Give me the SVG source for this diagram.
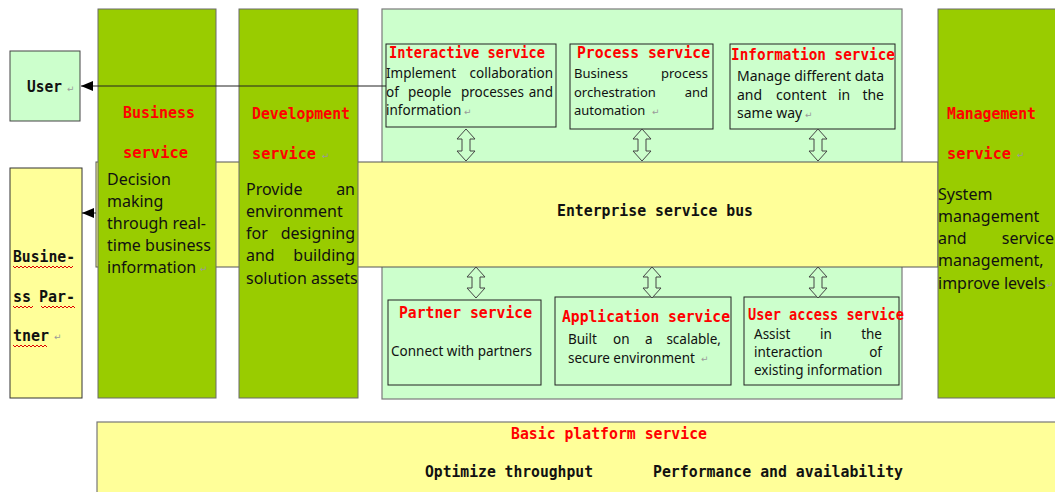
<svg xmlns="http://www.w3.org/2000/svg" width="1055" height="492" viewBox="0 0 1055 492">
<style>
.col{fill:#99cc00;stroke:#6b6b6b;stroke-width:1}
.lg{fill:#ccffcc;stroke:#7a7a7a;stroke-width:1.2}
.sub{fill:#ccffcc;stroke:#222;stroke-width:1}
.ye{fill:#ffff99;stroke:#555;stroke-width:1}
.h{font-family:"DejaVu Sans Mono",monospace;font-weight:bold;font-size:15px;fill:#ff0000}
.m{font-family:"DejaVu Sans Mono",monospace;font-weight:bold;font-size:15px;fill:#111}
.b{font-family:"Noto Sans",sans-serif;font-size:16px;fill:#111}
.s{font-size:13.5px}
.s13{font-size:13px}
.s14{font-size:14px}
.rm{font-family:"DejaVu Sans",sans-serif;font-size:9px;fill:#9a9a9a}
.ha{fill:#ccffcc;stroke:#444;stroke-width:1}
.wv{fill:none;stroke:#e00000;stroke-width:1}
.ln{fill:none;stroke:#222;stroke-width:1}
</style>
<defs>
<marker id="ah" viewBox="0 0 12 10" refX="12" refY="5" markerWidth="12" markerHeight="10" markerUnits="userSpaceOnUse" orient="auto">
<path d="M0,0 L12,5 L0,10 Z" fill="#000"/>
</marker>
</defs>
<rect width="1055" height="492" fill="#ffffff"/>

<g id="soa-container">
<rect class="lg" x="382" y="9" width="520" height="390"/>
</g>

<g id="enterprise-service-bus">
<rect class="ye" x="96" y="162" width="842" height="105"/>
<text class="m" x="557" y="216" textLength="196" lengthAdjust="spacingAndGlyphs">Enterprise service bus</text>
</g>

<g id="user">
<rect fill="#ccffcc" stroke="#444" x="10" y="51" width="70" height="70"/>
<text class="m" x="27" y="92" textLength="35" lengthAdjust="spacingAndGlyphs">User</text>
<text class="rm" x="67" y="92">↵</text>
</g>

<g id="business-partner">
<rect fill="#ffff99" stroke="#333" x="10" y="168" width="72" height="230"/>
<text class="m" x="13" y="262" textLength="62" lengthAdjust="spacingAndGlyphs">Busine-</text>
<text class="m" x="13" y="302">ss</text>
<text class="m" x="75" y="302" text-anchor="end">Par-</text>
<text class="m" x="13" y="341">tner</text>
<text class="rm" x="54" y="340">↵</text>
<path class="wv" d="M13,266 l2,2 l2,-2 l2,2 l2,-2 l2,2 l2,-2 l2,2 l2,-2 l2,2 l2,-2 l2,2 l2,-2 l2,2 l2,-2 l2,2 l2,-2 l2,2 l2,-2 l2,2 l2,-2 l2,2 l2,-2 l2,2 l2,-2 l2,2 l2,-2 l2,2 l2,-2 l2,2 l2,-2"/>
<path class="wv" d="M13,306 l2,2 l2,-2 l2,2 l2,-2 l2,2 l2,-2 l2,2 l2,-2 l2,2 l2,-2"/>
<path class="wv" d="M41,306 l2,2 l2,-2 l2,2 l2,-2 l2,2 l2,-2 l2,2 l2,-2 l2,2 l2,-2 l2,2 l2,-2 l2,2 l2,-2 l2,2 l2,-2 l2,2"/>
<path class="wv" d="M13,345 l2,2 l2,-2 l2,2 l2,-2 l2,2 l2,-2 l2,2 l2,-2 l2,2 l2,-2 l2,2 l2,-2 l2,2 l2,-2 l2,2 l2,-2 l2,2"/>
</g>

<g id="business-service">
<rect class="col" x="98" y="9" width="118" height="389"/>
<text class="h" x="123" y="118" textLength="72" lengthAdjust="spacingAndGlyphs">Business</text>
<text class="h" x="123" y="158" textLength="65" lengthAdjust="spacingAndGlyphs">service</text>
<text class="b" x="107" y="185">Decision</text>
<text class="b" x="107" y="207">making</text>
<text class="b" x="107" y="229">through real-</text>
<text class="b" x="107" y="251">time business</text>
<text class="b" x="107" y="273">information</text>
<text class="rm" x="200" y="272">↵</text>
</g>

<g id="development-service">
<rect class="col" x="239" y="9" width="119" height="389"/>
<text class="h" x="252" y="119" textLength="98" lengthAdjust="spacingAndGlyphs">Development</text>
<text class="h" x="252" y="159" textLength="64" lengthAdjust="spacingAndGlyphs">service</text>
<text class="rm" x="322" y="159">↵</text>
<text class="b" x="246" y="195">Provide</text>
<text class="b" x="355" y="195" text-anchor="end">an</text>
<text class="b" x="246" y="217">environment</text>
<text class="b" x="246" y="239">for</text>
<text class="b" x="355" y="239" text-anchor="end">designing</text>
<text class="b" x="246" y="261">and</text>
<text class="b" x="355" y="261" text-anchor="end">building</text>
<text class="b" x="246" y="284">solution assets</text>
</g>

<g id="management-service">
<rect class="col" x="938" y="9" width="130" height="389"/>
<text class="h" x="947" y="119" textLength="89" lengthAdjust="spacingAndGlyphs">Management</text>
<text class="h" x="947" y="159" textLength="64" lengthAdjust="spacingAndGlyphs">service</text>
<text class="rm" x="1017" y="158">↵</text>
<text class="b" x="938" y="200">System</text>
<text class="b" x="938" y="222">management</text>
<text class="b" x="938" y="244">and</text>
<text class="b" x="1054" y="244" text-anchor="end">service</text>
<text class="b" x="938" y="266">management,</text>
<text class="b" x="938" y="289">improve levels</text>
<text class="rm" x="1046" y="288">↵</text>
</g>

<g id="interactive-service">
<rect class="sub" x="386" y="44" width="170" height="83"/>
<text class="h" x="389" y="58" textLength="156" lengthAdjust="spacingAndGlyphs">Interactive service</text>
<text class="b s" x="386" y="78">Implement</text>
<text class="b s" x="553" y="78" text-anchor="end">collaboration</text>
<text class="b s" x="386" y="97">of</text>
<text class="b s" x="408" y="97">people</text>
<text class="b s" x="461" y="97">processes</text>
<text class="b s" x="553" y="97" text-anchor="end">and</text>
<text class="b s" x="386" y="115">information</text>
<text class="rm" x="464" y="115">↵</text>
</g>

<g id="process-service">
<rect class="sub" x="570" y="44" width="143" height="85"/>
<text class="h" x="577" y="58" textLength="133" lengthAdjust="spacingAndGlyphs">Process service</text>
<text class="b s13" x="574" y="78">Business</text>
<text class="b s13" x="708" y="78" text-anchor="end">process</text>
<text class="b s13" x="574" y="97">orchestration</text>
<text class="b s13" x="708" y="97" text-anchor="end">and</text>
<text class="b s13" x="574" y="115">automation</text>
<text class="rm" x="652" y="115">↵</text>
</g>

<g id="information-service">
<rect class="sub" x="730" y="44" width="165" height="85"/>
<text class="h" x="731" y="60" textLength="164" lengthAdjust="spacingAndGlyphs">Information service</text>
<text class="b s14" x="737" y="81">Manage different data</text>
<text class="b s14" x="737" y="100">and</text>
<text class="b s14" x="776" y="100">content</text>
<text class="b s14" x="838" y="100">in</text>
<text class="b s14" x="884" y="100" text-anchor="end">the</text>
<text class="b s14" x="737" y="118">same way</text>
<text class="rm" x="805" y="118">↵</text>
</g>

<g id="partner-service">
<rect class="sub" x="388" y="300" width="153" height="85"/>
<text class="h" x="399" y="318" textLength="133" lengthAdjust="spacingAndGlyphs">Partner service</text>
<text class="b s" x="391" y="356">Connect with partners</text>
</g>

<g id="application-service">
<rect class="sub" x="555" y="297" width="176" height="88"/>
<text class="h" x="562" y="322" textLength="168" lengthAdjust="spacingAndGlyphs">Application service</text>
<text class="b s" x="568" y="344">Built</text>
<text class="b s" x="613" y="344">on</text>
<text class="b s" x="645" y="344">a</text>
<text class="b s" x="721" y="344" text-anchor="end">scalable,</text>
<text class="b s" x="568" y="363">secure environment</text>
<text class="rm" x="701" y="362">↵</text>
</g>

<g id="user-access-service">
<rect class="sub" x="744" y="297" width="155" height="88"/>
<text class="h" x="748" y="320" textLength="156" lengthAdjust="spacingAndGlyphs">User access service</text>
<text class="b s" x="754" y="339">Assist</text>
<text class="b s" x="820" y="339">in</text>
<text class="b s" x="882" y="339" text-anchor="end">the</text>
<text class="b s" x="754" y="357">interaction</text>
<text class="b s" x="882" y="357" text-anchor="end">of</text>
<text class="b s" x="754" y="375">existing information</text>
</g>

<g id="basic-platform-service">
<rect fill="#ffff99" stroke="#777" stroke-width="1.2" x="97" y="422" width="970" height="80"/>
<text class="h" x="511" y="439" textLength="196" lengthAdjust="spacingAndGlyphs">Basic platform service</text>
<text class="m" x="425" y="477" textLength="168" lengthAdjust="spacingAndGlyphs">Optimize throughput</text>
<text class="m" x="653" y="477" textLength="250" lengthAdjust="spacingAndGlyphs">Performance and availability</text>
</g>

<g id="connectors">
<path class="ln" d="M386,86 H81" marker-end="url(#ah)"/>
<path class="ln" d="M96,213 H82" marker-end="url(#ah)"/>
<path class="ha" d="M466,129 L475,139 L470,139 L470,151 L475,151 L466,161 L457,151 L462,151 L462,139 L457,139 Z"/>
<path class="ha" d="M642,129 L651,139 L646,139 L646,151 L651,151 L642,161 L633,151 L638,151 L638,139 L633,139 Z"/>
<path class="ha" d="M818,129 L827,139 L822,139 L822,151 L827,151 L818,161 L809,151 L814,151 L814,139 L809,139 Z"/>
<path class="ha" d="M476,267 L485,277 L480,277 L480,288 L485,288 L476,298 L467,288 L472,288 L472,277 L467,277 Z"/>
<path class="ha" d="M652,267 L661,277 L656,277 L656,288 L661,288 L652,298 L643,288 L648,288 L648,277 L643,277 Z"/>
<path class="ha" d="M818,267 L827,277 L822,277 L822,288 L827,288 L818,298 L809,288 L814,288 L814,277 L809,277 Z"/>
</g>
</svg>
